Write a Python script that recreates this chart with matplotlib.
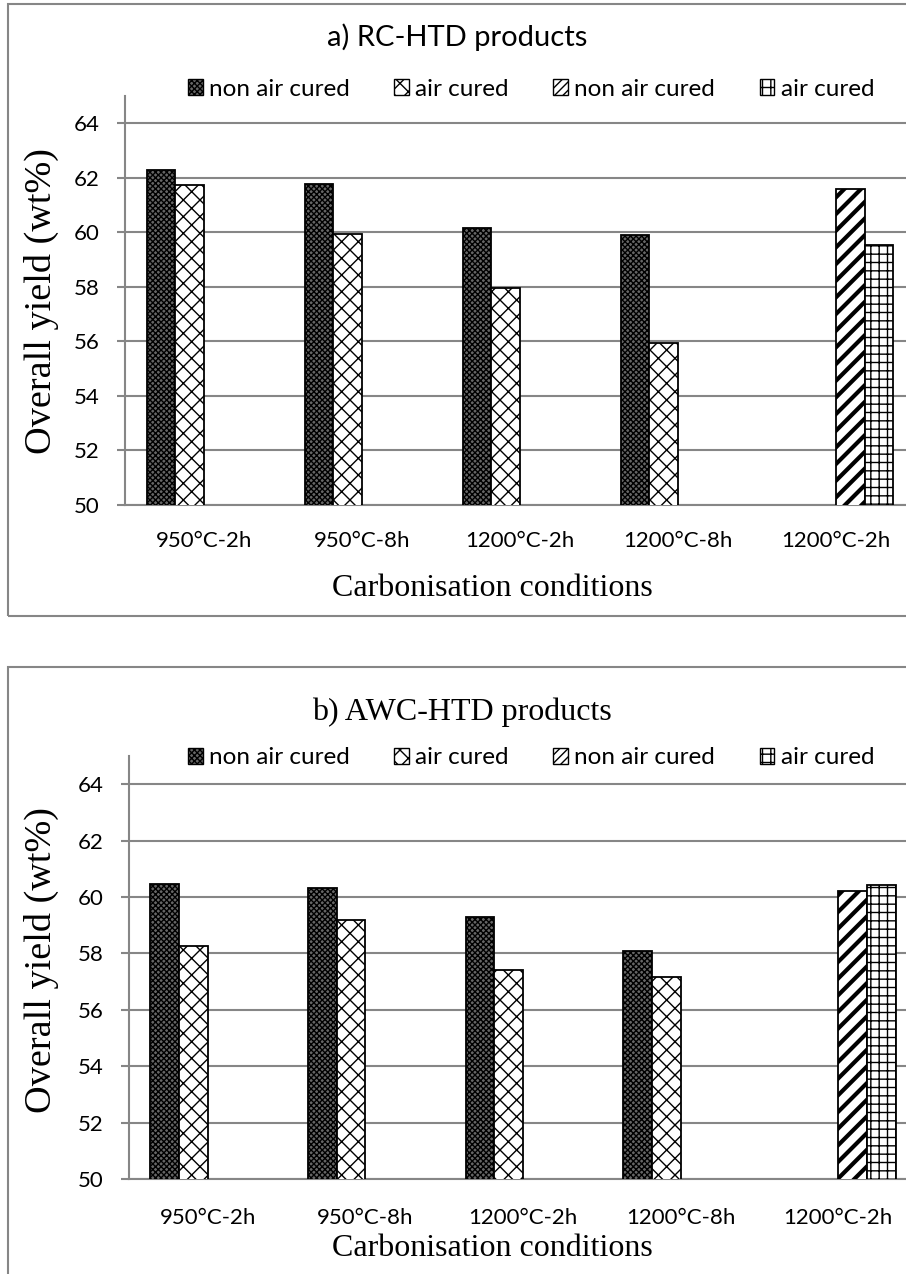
import numpy as np
import matplotlib
matplotlib.use("Agg")
import matplotlib.pyplot as plt
from matplotlib.patches import Rectangle, Patch

# data
categories = ["950°C-2h", "950°C-8h", "1200°C-2h", "1200°C-8h", "1200°C-2h"]
nan = np.nan
a_non_air = [62.28, 61.79, 60.17, 59.90, nan]
a_air = [61.75, 59.93, 57.97, 55.95, nan]
a_non_air2 = [nan, nan, nan, nan, 61.58]
a_air2 = [nan, nan, nan, nan, 59.53]
b_non_air = [60.46, 60.33, 59.28, 58.10, nan]
b_air = [58.27, 59.17, 57.40, 57.18, nan]
b_non_air2 = [nan, nan, nan, nan, 60.22]
b_air2 = [nan, nan, nan, nan, 60.42]
series_labels = ["non air cured", "air cured", "non air cured", "air cured"]
yticks = [50, 52, 54, 56, 58, 60, 62, 64]

W, H = 906, 1274
plt.rcParams["hatch.linewidth"] = 1.0
SANS = "Lato"
SERIF = "Liberation Serif"
GRAY = "#868686"

fig = plt.figure(figsize=(W / 100, H / 100), dpi=100)


def px_axes(l, t, r, b):
    return fig.add_axes([l / W, 1 - b / H, (r - l) / W, (b - t) / H])


hatches = ["xxxxxx", "xx", "//", "++"]
faces = ["#666666", "white", "white", "white"]


def draw_panel(ax, values, tick_pad):
    x = np.arange(len(categories))
    bw = 1 / 5.5
    for k, vals in enumerate(values):
        vals = np.asarray(vals, dtype=float)
        ok = ~np.isnan(vals)
        bars = ax.bar(x[ok] + (k - 1.5) * bw, vals[ok], width=bw,
                      color=faces[k], edgecolor="black", linewidth=1.3,
                      hatch=hatches[k], zorder=3)
        if k == 2:
            for p in bars:
                try:
                    p.set_hatch_linewidth(3.0)
                except AttributeError:
                    pass
    ax.set_xlim(-0.5, len(categories) - 0.5)
    ax.set_ylim(50, 65)
    ax.set_yticks(yticks)
    ax.set_xticks(x)
    ax.set_xticklabels(categories, fontfamily=SANS, fontsize=16)
    ax.set_yticklabels([str(t) for t in yticks], fontfamily=SANS, fontsize=16)
    ax.grid(axis="y", color=GRAY, linewidth=1.5, zorder=0)
    ax.set_axisbelow(True)
    for s in ["top", "right"]:
        ax.spines[s].set_visible(False)
    for s in ["left", "bottom"]:
        ax.spines[s].set_color(GRAY)
        ax.spines[s].set_linewidth(1.5)
    ax.tick_params(axis="x", length=0, pad=tick_pad)
    ax.tick_params(axis="y", length=6, width=1.5, color=GRAY, pad=12)


def legend(y):
    handles = []
    for k, h in enumerate(hatches):
        hp = Patch(facecolor=faces[k], edgecolor="black",
                   hatch="////" if k == 2 else h, linewidth=1.0)
        handles.append(hp)
    fig.legend(handles, series_labels, loc="center", bbox_to_anchor=(531 / W, 1 - y / H),
               ncol=4, frameon=False, prop={"family": SANS, "size": 17.5},
               handlelength=0.6, handleheight=0.6, handletextpad=0.25,
               columnspacing=1.85)


# frames around each panel
fig.patches.append(Rectangle((8 / W, 1 - 616 / H), 1.0, 612 / H, transform=fig.transFigure,
                             fill=False, edgecolor=GRAY, linewidth=1.5))
fig.patches.append(Rectangle((8 / W, 1 - 1290 / H), 1.0, 623 / H, transform=fig.transFigure,
                             fill=False, edgecolor=GRAY, linewidth=1.5))

ax1 = px_axes(125, 96, 915, 505)
draw_panel(ax1, [a_non_air, a_air, a_non_air2, a_air2], tick_pad=18.5)
fig.text(457 / W, 1 - 37 / H, "a) RC-HTD products", family=SANS, fontsize=21,
         ha="center", va="center")
legend(89)
fig.text(492 / W, 1 - 588 / H, "Carbonisation conditions", family=SERIF,
         fontsize=23, ha="center", va="center")
fig.text(41 / W, 1 - 301 / H, "Overall yield (wt%)", family=SERIF, fontsize=27.5,
         rotation=90, ha="center", va="center")

ax2 = px_axes(129, 756, 917, 1179)
draw_panel(ax2, [b_non_air, b_air, b_non_air2, b_air2], tick_pad=21)
fig.text(462 / W, 1 - 712 / H, "b) AWC-HTD products", family=SERIF, fontsize=23,
         ha="center", va="center")
legend(758)
fig.text(492 / W, 1 - 1248 / H, "Carbonisation conditions", family=SERIF,
         fontsize=23, ha="center", va="center")
fig.text(41 / W, 1 - 960 / H, "Overall yield (wt%)", family=SERIF, fontsize=27.5,
         rotation=90, ha="center", va="center")

fig.savefig("out.png", dpi=100)
